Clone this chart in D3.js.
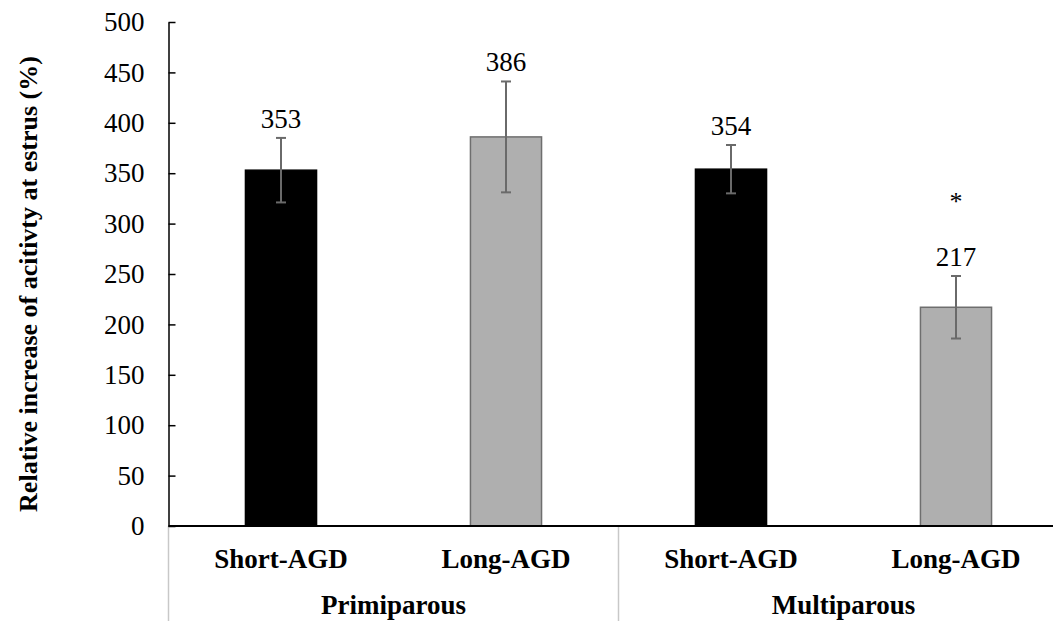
<!DOCTYPE html>
<html>
<head>
<meta charset="utf-8">
<script src="https://cdn.jsdelivr.net/npm/d3@7"></script>
<style>
  body { margin: 0; background: #fff; }
  text { font-family: "Liberation Serif", "Times New Roman", serif; }
</style>
</head>
<body>
<svg class="chart"></svg>
<script>
// data
var groups = ["Primiparous", "Multiparous"];
var types = ["Short-AGD", "Long-AGD"];
var barIds = ["P-Short", "P-Long", "M-Short", "M-Long"];
var barGroup = ["Primiparous", "Primiparous", "Multiparous", "Multiparous"];
var barType = ["Short-AGD", "Long-AGD", "Short-AGD", "Long-AGD"];
var values = [353, 386, 354, 217];
var errors = [32, 55, 24, 31];
var stars = ["", "", "", "*"];
var yTicks = [0, 50, 100, 150, 200, 250, 300, 350, 400, 450, 500];

var width = 1053, height = 621;
var margin = {top: 22, left: 168.5, bottom: 95};
var plotRight = margin.left + 900; // axis runs past the right edge
var baseY = height - margin.bottom;

var svg = d3.select(".chart")
    .attr("width", width)
    .attr("height", height);

var xChart = d3.scaleBand()
    .domain(barIds)
    .range([margin.left, plotRight])
    .paddingInner(0.684)
    .paddingOuter(0.342);

var xGroup = d3.scaleBand()
    .domain(groups)
    .range([margin.left, plotRight]);

var yChart = d3.scaleLinear()
    .domain([0, 500])
    .range([baseY, margin.top]);

var data = barIds.map(function(id, i){
    return {id: id, group: barGroup[i], type: barType[i], value: values[i], err: errors[i], star: stars[i]};
});

//group divider lines
svg.selectAll(".divider")
    .data(groups)
    .enter().append("line")
    .attr("class", "divider")
    .attr("x1", function(d){ return xGroup(d); })
    .attr("x2", function(d){ return xGroup(d); })
    .attr("y1", baseY)
    .attr("y2", height)
    .attr("stroke", "#c8c8c8")
    .attr("stroke-width", 1.5);

//bars
svg.selectAll(".bar")
    .data(data)
    .enter().append("rect")
    .attr("class", "bar")
    .attr("x", function(d){ return xChart(d.id); })
    .attr("y", function(d){ return yChart(d.value); })
    .attr("width", xChart.bandwidth())
    .attr("height", function(d){ return baseY - yChart(d.value); })
    .attr("fill", function(d){ return d.type === "Short-AGD" ? "#000" : "#afafaf"; })
    .attr("stroke", function(d){ return d.type === "Short-AGD" ? "#000" : "#6e6e6e"; })
    .attr("stroke-width", 1.5);

//error bars
var eb = svg.selectAll(".err")
    .data(data)
    .enter().append("g")
    .attr("class", "err")
    .attr("stroke", "#6a6a6a")
    .attr("stroke-width", 2);

eb.append("line")
    .attr("x1", function(d){ return xChart(d.id) + xChart.bandwidth() / 2; })
    .attr("x2", function(d){ return xChart(d.id) + xChart.bandwidth() / 2; })
    .attr("y1", function(d){ return yChart(d.value - d.err); })
    .attr("y2", function(d){ return yChart(d.value + d.err); });

[-1, 1].forEach(function(s){
    eb.append("line")
        .attr("x1", function(d){ return xChart(d.id) + xChart.bandwidth() / 2 - 5; })
        .attr("x2", function(d){ return xChart(d.id) + xChart.bandwidth() / 2 + 5; })
        .attr("y1", function(d){ return yChart(d.value + s * d.err); })
        .attr("y2", function(d){ return yChart(d.value + s * d.err); });
});

//value labels
svg.selectAll(".val")
    .data(data)
    .enter().append("text")
    .attr("class", "val")
    .attr("x", function(d){ return xChart(d.id) + xChart.bandwidth() / 2; })
    .attr("y", function(d){ return yChart(d.value + d.err) - 10; })
    .attr("text-anchor", "middle")
    .attr("font-size", 27)
    .text(function(d){ return d.value; });

svg.selectAll(".star")
    .data(data.filter(function(d){ return d.star; }))
    .enter().append("text")
    .attr("class", "star")
    .attr("x", function(d){ return xChart(d.id) + xChart.bandwidth() / 2; })
    .attr("y", 210)
    .attr("text-anchor", "middle")
    .attr("font-size", 26)
    .text(function(d){ return d.star; });

//left axis
var yAxis = d3.axisLeft(yChart)
    .tickValues(yTicks)
    .tickSizeInner(-7)
    .tickSizeOuter(0)
    .tickPadding(24);

var yG = svg.append("g")
    .attr("class", "y axis")
    .attr("transform", "translate(" + margin.left + ",0)")
    .call(yAxis);
yG.selectAll("path, line").attr("stroke", "#000").attr("stroke-width", 1.5);
yG.selectAll("text")
    .attr("font-size", 27)
    .attr("font-family", "Liberation Serif, Times New Roman, serif")
    .attr("fill", "#000");

//bottom axis line
svg.append("line")
    .attr("x1", margin.left)
    .attr("x2", plotRight)
    .attr("y1", baseY)
    .attr("y2", baseY)
    .attr("stroke", "#000")
    .attr("stroke-width", 2);

//category labels
svg.selectAll(".cat")
    .data(data)
    .enter().append("text")
    .attr("class", "cat")
    .attr("x", function(d){ return xChart(d.id) + xChart.bandwidth() / 2; })
    .attr("y", 568)
    .attr("text-anchor", "middle")
    .attr("font-size", 27)
    .attr("font-weight", "bold")
    .text(function(d){ return d.type; });

svg.selectAll(".grp")
    .data(groups)
    .enter().append("text")
    .attr("class", "grp")
    .attr("x", function(d){ return xGroup(d) + xGroup.bandwidth() / 2; })
    .attr("y", 614)
    .attr("text-anchor", "middle")
    .attr("font-size", 27)
    .attr("font-weight", "bold")
    .text(function(d){ return d; });

//y axis title
svg.append("text")
    .attr("transform", "translate(37," + ((margin.top + baseY) / 2 + 10) + ") rotate(-90)")
    .attr("text-anchor", "middle")
    .attr("font-size", 26)
    .attr("font-weight", "bold")
    .text("Relative increase of acitivty at estrus (%)");
</script>
</body>
</html>
